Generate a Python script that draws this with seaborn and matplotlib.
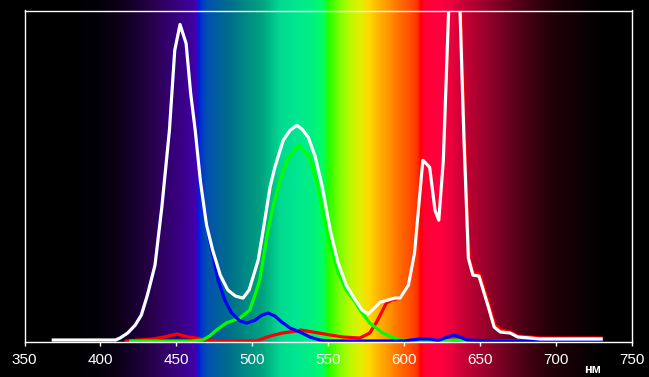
import numpy as np
import pandas as pd
import seaborn as sns
import matplotlib.pyplot as plt

# spectrum readings (wavelength in nm, intensity in arbitrary units)
white_nm = [369, 410, 413, 418, 423, 427, 431, 436, 440.5, 445.5, 449, 452.5, 456.5, 459.5, 462.5,
            466, 470, 474, 479, 484, 489, 494, 498, 501, 504, 507.3, 511.8, 515, 520.5, 525,
            529.5, 533, 537, 541.5, 546, 551.5, 556.5, 562, 568, 572.5, 576.5, 580.5, 584.5,
            589.5, 594, 597.5, 603, 607, 612.5, 617, 620.5, 623, 626, 629.5, 633, 637, 639.5,
            642.5, 645.5, 649.5, 655.5, 659.5, 663.5, 670, 675, 683, 690, 703, 716, 730]
white_val = [2, 2, 4, 9, 17, 27, 47, 77, 135, 212, 292, 318, 299, 249, 212,
             160, 117, 92, 67, 52, 46, 44, 52, 67, 82, 112, 155, 175, 202, 212,
             217, 213, 205, 186, 157, 112, 80, 57, 42, 32, 28, 34, 40,
             42, 44, 44, 57, 89, 182, 175, 132, 122, 182, 332, 440, 332, 208,
             84, 67, 66, 36, 15, 10, 9, 5, 4, 3, 3, 3, 3]

red_nm = [417, 425, 434.5, 442, 450.5, 458, 467.5, 477, 503, 508, 512, 520, 529.5, 532,
          540, 551.5, 560, 571, 577.5, 582, 588.5, 592, 597.5, 603, 607, 612.5, 617, 620.5,
          623, 626, 629.5, 633, 637.5, 640, 643, 646, 650, 656, 660, 664, 670, 675, 683,
          690, 703, 716, 730]
red_val = [1, 2, 3, 5, 8, 5, 3, 1, 1, 4, 6, 9, 11, 12,
           10, 7, 5, 4, 9, 20, 39, 42, 44, 57, 89, 182, 175, 132,
           122, 182, 332, 440, 332, 208, 84, 69, 68, 38, 17, 12, 10, 6, 5,
           4, 4, 4, 4]

green_nm = [420, 460, 467.5, 472, 476.5, 483, 492, 498.5, 503, 505, 507.5, 510.5, 514, 518.5,
            523, 530.5, 538, 543.5, 549, 556.5, 562, 567, 572, 577.5, 586, 597, 610, 625,
            634, 645, 730]
green_val = [1, 1, 2, 6, 12, 19, 24, 32, 52, 62, 85, 112, 137, 162,
             182, 197, 185, 155, 112, 70, 52, 42, 30, 19, 9, 2, 1, 1,
             2, 1, 1]

blue_nm = [410, 413, 418, 423, 427, 431, 436, 440.5, 445.5, 449, 452.5, 456.5, 459.5, 462.5,
           466, 470, 474, 477.5, 482, 486.5, 492, 496.5, 502, 506.5, 510.5, 515, 519.5, 525,
           531.5, 538, 544.5, 551, 600, 605, 610.5, 617, 622.5, 627, 632.5, 637, 641.5, 660,
           700, 730]
blue_val = [2, 4, 9, 17, 27, 47, 77, 135, 212, 292, 318, 299, 249, 212,
            160, 117, 88, 62, 42, 29, 21, 19, 22, 27, 29, 26, 20, 14,
            10, 5, 2, 1, 1, 2, 3, 3, 1.5, 4, 7, 5, 2, 1,
            1, 1]

xticks = [350, 400, 450, 500, 550, 600, 650, 700, 750]
unit_label = "нм"

# colour stops of the spectrum backdrop
stop_nm = [380, 395, 410, 425, 433, 445, 452, 460, 463.6, 464.4, 466, 470, 478, 486, 496,
           506, 513, 518, 530, 540, 547, 550, 558, 565, 571, 577, 584, 591, 598, 604, 609,
           611, 613, 624, 632, 637, 647, 657, 667, 677, 687, 696, 706, 716, 723, 731]
stop_hex = ["#000000", "#020005", "#0a0012", "#1a0035", "#280048", "#330070", "#380080",
            "#3e00a0", "#4200b4", "#0018e0", "#0030d0", "#0050b0", "#00609a", "#00708a",
            "#008a84", "#00a080", "#00c088", "#00d890", "#00e890", "#00f080", "#00ff60",
            "#20ff00", "#80ff00", "#c0f800", "#e0f000", "#ffd800", "#ffb000", "#ff9000",
            "#ff6800", "#ff5000", "#ff3000", "#ff0000", "#ff0030", "#ff0040", "#e8003c",
            "#d00038", "#b00030", "#900028", "#700020", "#500018", "#380010", "#250008",
            "#180006", "#100005", "#060002", "#000000"]

W, H = 649, 377
left_px, right_px, top_px, bottom_px = 24.5, 631.5, 10.5, 342.0

plt.rcParams['font.family'] = ['Liberation Sans', 'DejaVu Sans']

fig = plt.figure(figsize=(W / 100, H / 100), dpi=100, facecolor='black')

# backdrop axes covering the whole figure, aligned to the data x scale
px_per_nm = (right_px - left_px) / 400.0
bg_lo = 350 - left_px / px_per_nm
bg_hi = 350 + (W - left_px) / px_per_nm
bg = fig.add_axes([0, 0, 1, 1], zorder=0)
bg.set_facecolor('black')
grid = np.linspace(bg_lo, bg_hi, 2000)
rgb = np.array([[int(h[i:i + 2], 16) / 255 for i in (1, 3, 5)] for h in stop_hex])
img = np.stack([np.interp(grid, stop_nm, rgb[:, c], left=0, right=0) for c in range(3)], axis=-1)
bg.imshow(img[np.newaxis, :, :], aspect='auto', extent=[bg_lo, bg_hi, 0, 1], interpolation='bilinear')
bg.set_xlim(bg_lo, bg_hi)
bg.set_ylim(0, 1)
bg.axis('off')

ax = fig.add_axes([left_px / W, 1 - bottom_px / H, (right_px - left_px) / W, (bottom_px - top_px) / H],
                  zorder=1)
ax.set_facecolor('none')

frames = []
for name, nm, val in [('red', red_nm, red_val), ('green', green_nm, green_val),
                      ('blue', blue_nm, blue_val), ('white', white_nm, white_val)]:
    frames.append(pd.DataFrame({'nm': nm, 'val': val, 'channel': name}))
df = pd.concat(frames, ignore_index=True)

palette = {'red': '#ff0000', 'green': '#00ff00', 'blue': '#0000ff', 'white': '#ffffff'}
sns.lineplot(data=df, x='nm', y='val', hue='channel', hue_order=['red', 'green', 'blue', 'white'],
             palette=palette, estimator=None, sort=True, linewidth=2.3, legend=False, ax=ax)

ax.set_xlim(350, 750)
ax.set_ylim(0, 332)
ax.set_xticks(xticks)
ax.set_xticklabels([str(t) for t in xticks])
ax.set_yticks([])
ax.set_xlabel('')
ax.set_ylabel('')
ax.tick_params(axis='x', colors='white', labelsize=11, length=3, width=1, pad=5, direction='out')
for s in ax.spines.values():
    s.set_color('white')
    s.set_linewidth(1.0)

fig.text(593 / W, 1 - 370 / H, unit_label, color='white', fontsize=9, fontweight='bold',
         ha='center', va='center')

fig.savefig('out.png', dpi=100, facecolor='black')
